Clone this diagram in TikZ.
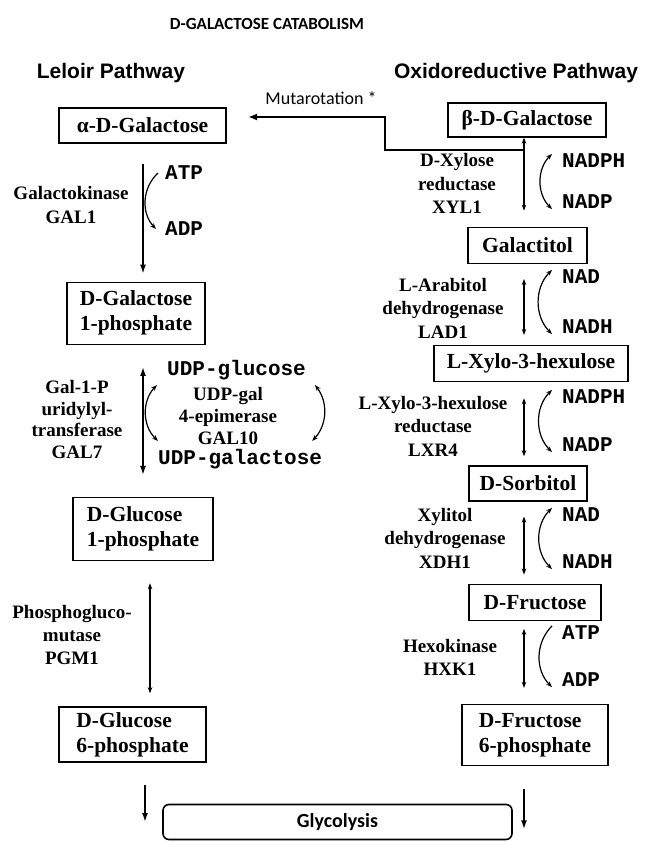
\documentclass[tikz,border=0pt]{standalone}
\usepackage{fontspec}
\setmainfont{Liberation Serif}
\newfontfamily\monofam{Liberation Mono}
\newfontfamily\arialfam{Liberation Sans}
\newfontfamily\calfam{Carlito}
\usetikzlibrary{arrows.meta,positioning,calc}

\tikzset{
  metab/.style={draw, line width=1.3pt, inner sep=0pt, align=left,
    font=\fontsize{21.5}{25}\selectfont\bfseries},
  enz/.style={align=center, inner sep=0pt, font=\fontsize{19}{23.5}\selectfont\bfseries},
  cof/.style={inner sep=0pt, anchor=west, font=\monofam\fontsize{21}{21}\selectfont\bfseries},
  pathhead/.style={inner sep=0pt, font=\arialfam\fontsize{21}{21}\selectfont\bfseries},
  fwd/.style={-{Latex[length=9pt,width=6pt]}, line width=1.6pt},
  rev/.style={{Latex[length=9pt,width=6pt]}-{Latex[length=9pt,width=6pt]}, line width=1.6pt},
  revsm/.style={{Stealth[length=6pt,width=4.5pt]}-{Stealth[length=6pt,width=4.5pt]}, line width=1.4pt},
  cofarc/.style={line width=1.2pt},
  cofone/.style={cofarc, -{Stealth[length=6pt,width=4.5pt]}},
  cofboth/.style={cofarc, {Stealth[length=6pt,width=4.5pt]}-{Stealth[length=6pt,width=4.5pt]}},
}

\begin{document}
\begin{tikzpicture}[x=1pt, y=-1pt]
\useasboundingbox (0,0) rectangle (649,842);

% headings
\node[inner sep=0pt, font=\calfam\fontsize{17}{17}\selectfont\bfseries] (title) at (267,24) {D-GALACTOSE CATABOLISM};
\node[pathhead] (leloir) at (111,73) {Leloir Pathway};
\node[pathhead] (oxred) at (516,73) {Oxidoreductive Pathway};

% Leloir pathway
\node[metab, minimum width=167pt, minimum height=35pt] (alpha) at (142.5,125.5) {α-D-Galactose};
\node[metab, minimum width=138pt, minimum height=62pt, below=138pt of alpha, xshift=-6.5pt] (gal1p) {D-Galactose\\1-phosphate};
\node[metab, minimum width=140pt, minimum height=63pt, below=152pt of gal1p, xshift=7pt] (glc1p) {D-Glucose\\1-phosphate};
\node[metab, minimum width=147pt, minimum height=55pt, below=145pt of glc1p, xshift=-10.5pt] (glc6p) {D-Glucose\\6-phosphate};

% oxidoreductive pathway
\node[metab, minimum width=158pt, minimum height=34pt] (beta) at (527,120) {β-D-Galactose};
\node[metab, minimum width=119pt, minimum height=36pt, below=89pt of beta, xshift=0.5pt] (galtol) {Galactitol};
\node[metab, minimum width=194pt, minimum height=36pt, below=81pt of galtol, xshift=3.5pt] (lxylo) {L-Xylo-3-hexulose};
\node[metab, minimum width=118pt, minimum height=35pt, below=83pt of lxylo, xshift=-3pt] (sorb) {D-Sorbitol};
\node[metab, minimum width=132pt, minimum height=36pt, below=82pt of sorb, xshift=7pt] (fruc) {D-Fructose};
\node[metab, minimum width=146pt, minimum height=61pt, below=83pt of fruc] (f6p) {D-Fructose\\6-phosphate};

\node[draw, line width=1.6pt, rounded corners=6pt, minimum width=349pt, minimum height=35pt,
  font=\calfam\fontsize{20}{20}\selectfont\bfseries] (glyc) at (337.5,822) {Glycolysis};

% enzymes
\node[enz, font=\fontsize{19}{24}\selectfont\bfseries] (galk) at (71,205) {Galactokinase\\GAL1};
\node[enz, font=\fontsize{19}{21.7}\selectfont\bfseries] (gal7) at (77,419.5) {Gal-1-P\\uridylyl-\\transferase\\GAL7};
\node[enz, font=\fontsize{19}{22}\selectfont\bfseries] (epim) at (228,416) {UDP-gal\\4-epimerase\\GAL10};
\node[enz, font=\fontsize{19}{23}\selectfont\bfseries] (pgm) at (72,635) {Phosphogluco-\\mutase\\PGM1};
\node[enz] (xyl1) at (457,183.5) {D-Xylose\\reductase\\XYL1};
\node[enz] (lad1) at (443,308) {L-Arabitol\\dehydrogenase\\LAD1};
\node[enz] (lxr4) at (433,426) {L-Xylo-3-hexulose\\reductase\\LXR4};
\node[enz] (xdh1) at (445,538) {Xylitol\\dehydrogenase\\XDH1};
\node[enz] (hxk1) at (450,657.5) {Hexokinase\\HXK1};

% cofactors
\node[cof] (atp1) at (165,173) {ATP};
\node[cof] (adp1) at (165,229) {ADP};
\node[cof] (udpglc) at (167,370) {UDP-glucose};
\node[cof] (udpgal) at (158,459) {UDP-galactose};
\node[cof] (nadph1) at (562,161) {NADPH};
\node[cof] (nadp1) at (562,202) {NADP};
\node[cof] (nad1) at (562,277) {NAD};
\node[cof] (nadh1) at (562,327) {NADH};
\node[cof] (nadph2) at (562,397) {NADPH};
\node[cof] (nadp2) at (562,445) {NADP};
\node[cof] (nad2) at (562,515) {NAD};
\node[cof] (nadh2) at (562,562) {NADH};
\node[cof] (atp2) at (562,633) {ATP};
\node[cof] (adp2) at (562,680) {ADP};

% columns
\coordinate (col-l) at (143,0);
\coordinate (col-l2) at (150,0);
\coordinate (col-l3) at (145,0);
\coordinate (col-r) at (524,0);

% main arrows, left
\draw[fwd, shorten <=20pt, shorten >=8pt] (alpha.south -| col-l) -- (gal1p.north -| col-l);
\draw[rev, shorten <=22pt, shorten >=22pt] (gal1p.south -| col-l) -- (glc1p.north -| col-l);
\draw[revsm, line width=1.6pt, shorten <=22pt, shorten >=13pt] (glc1p.south -| col-l2) -- (glc6p.north -| col-l2);
\draw[fwd, shorten <=22pt] (glc6p.south -| col-l3) -- (glyc.west -| col-l3);

% main arrows, right
\draw[revsm] (beta.south -| col-r) -- (galtol.north -| col-r) [shorten >=16pt];
\draw[revsm, shorten <=15pt, shorten >=10pt] (galtol.south -| col-r) -- (lxylo.north -| col-r);
\draw[revsm, shorten <=16pt, shorten >=9pt] (lxylo.south -| col-r) -- (sorb.north -| col-r);
\draw[revsm, shorten <=15pt, shorten >=9pt] (sorb.south -| col-r) -- (fruc.north -| col-r);
\draw[revsm, shorten <=8pt, shorten >=16pt] (fruc.south -| col-r) -- (f6p.north -| col-r);
\draw[fwd, shorten <=23pt, shorten >=11pt] (f6p.south -| col-r) -- (glyc.south -| col-r);

% mutarotation
\coordinate (mut-corner) at (385,150);
\coordinate (mut-tip) at (248,117);
\draw[line width=2.2pt, -{Latex[length=9pt,width=7pt]}] (mut-corner -| col-r) -- (mut-corner) |- (mut-tip);
\node[inner sep=0pt, font=\calfam\fontsize{18}{18}\selectfont] (mut-lbl) at (321,98) {Mutarotation *};

% cofactor arcs
\draw[cofone] ([xshift=-7pt]atp1.west) to[bend right=45] ([xshift=-9pt]adp1.west);
\draw[cofboth] ([xshift=-10pt,yshift=-5pt]udpglc.south west) to[bend right=45] ([xshift=0pt,yshift=8pt]udpgal.north west);
\draw[cofboth] ([xshift=9pt,yshift=-5pt]udpglc.south east) to[bend left=40] ([xshift=-10pt,yshift=8pt]udpgal.north east);
\draw[cofboth] ([xshift=-10pt]nadph1.north west) to[bend right=45] ([xshift=-10pt]nadp1.south west);
\draw[cofboth] ([xshift=-10pt]nad1.north west) to[bend right=45] ([xshift=-10pt]nadh1.south west);
\draw[cofboth] ([xshift=-10pt]nadph2.north west) to[bend right=45] ([xshift=-10pt]nadp2.south west);
\draw[cofboth] ([xshift=-10pt]nad2.north west) to[bend right=45] ([xshift=-10pt]nadh2.south west);
\draw[cofone] ([xshift=-10pt]atp2.north west) to[bend right=45] ([xshift=-10pt]adp2.south west);
\end{tikzpicture}
\end{document}
